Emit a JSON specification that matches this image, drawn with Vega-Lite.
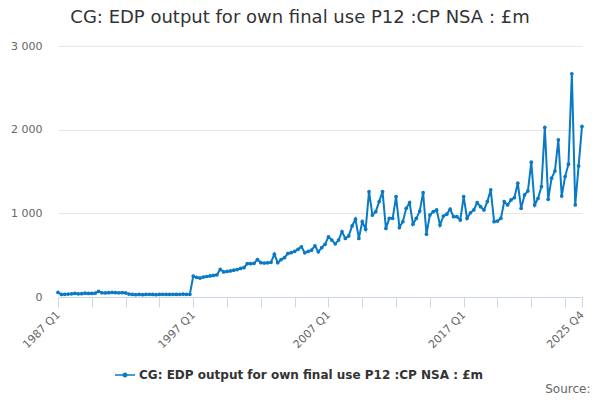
{
  "$schema": "https://vega.github.io/schema/vega-lite/v6.json",
  "autosize": {"type": "none"},
  "padding": {"left": 58, "top": 46, "right": 18, "bottom": 103},
  "width": 524,
  "height": 251,
  "background": "white",
  "title": {
    "text": "CG: EDP output for own final use P12 :CP NSA : £m",
    "font": "DejaVu Sans",
    "fontSize": 18,
    "fontWeight": "normal",
    "color": "#333333",
    "anchor": "middle",
    "dx": -20,
    "offset": 13
  },
  "data": {
    "values": [
      {"period": "1987 Q1", "value": 55}, {"period": "1987 Q2", "value": 30}, {"period": "1987 Q3", "value": 32}, {"period": "1987 Q4", "value": 35},
      {"period": "1988 Q1", "value": 38}, {"period": "1988 Q2", "value": 42}, {"period": "1988 Q3", "value": 38}, {"period": "1988 Q4", "value": 40},
      {"period": "1989 Q1", "value": 45}, {"period": "1989 Q2", "value": 42}, {"period": "1989 Q3", "value": 42}, {"period": "1989 Q4", "value": 45},
      {"period": "1990 Q1", "value": 68}, {"period": "1990 Q2", "value": 50}, {"period": "1990 Q3", "value": 48}, {"period": "1990 Q4", "value": 52},
      {"period": "1991 Q1", "value": 55}, {"period": "1991 Q2", "value": 52}, {"period": "1991 Q3", "value": 50}, {"period": "1991 Q4", "value": 52},
      {"period": "1992 Q1", "value": 48}, {"period": "1992 Q2", "value": 35}, {"period": "1992 Q3", "value": 30}, {"period": "1992 Q4", "value": 28},
      {"period": "1993 Q1", "value": 30}, {"period": "1993 Q2", "value": 28}, {"period": "1993 Q3", "value": 30}, {"period": "1993 Q4", "value": 32},
      {"period": "1994 Q1", "value": 30}, {"period": "1994 Q2", "value": 28}, {"period": "1994 Q3", "value": 30}, {"period": "1994 Q4", "value": 32},
      {"period": "1995 Q1", "value": 30}, {"period": "1995 Q2", "value": 30}, {"period": "1995 Q3", "value": 32}, {"period": "1995 Q4", "value": 30},
      {"period": "1996 Q1", "value": 32}, {"period": "1996 Q2", "value": 33}, {"period": "1996 Q3", "value": 32}, {"period": "1996 Q4", "value": 32},
      {"period": "1997 Q1", "value": 250}, {"period": "1997 Q2", "value": 235}, {"period": "1997 Q3", "value": 227}, {"period": "1997 Q4", "value": 238},
      {"period": "1998 Q1", "value": 245}, {"period": "1998 Q2", "value": 252}, {"period": "1998 Q3", "value": 258}, {"period": "1998 Q4", "value": 265},
      {"period": "1999 Q1", "value": 330}, {"period": "1999 Q2", "value": 300}, {"period": "1999 Q3", "value": 305}, {"period": "1999 Q4", "value": 312},
      {"period": "2000 Q1", "value": 320}, {"period": "2000 Q2", "value": 328}, {"period": "2000 Q3", "value": 342}, {"period": "2000 Q4", "value": 350},
      {"period": "2001 Q1", "value": 400}, {"period": "2001 Q2", "value": 398}, {"period": "2001 Q3", "value": 402}, {"period": "2001 Q4", "value": 448},
      {"period": "2002 Q1", "value": 410}, {"period": "2002 Q2", "value": 405}, {"period": "2002 Q3", "value": 408}, {"period": "2002 Q4", "value": 415},
      {"period": "2003 Q1", "value": 512}, {"period": "2003 Q2", "value": 410}, {"period": "2003 Q3", "value": 448}, {"period": "2003 Q4", "value": 470},
      {"period": "2004 Q1", "value": 520}, {"period": "2004 Q2", "value": 530}, {"period": "2004 Q3", "value": 545}, {"period": "2004 Q4", "value": 570},
      {"period": "2005 Q1", "value": 600}, {"period": "2005 Q2", "value": 528}, {"period": "2005 Q3", "value": 545}, {"period": "2005 Q4", "value": 560},
      {"period": "2006 Q1", "value": 612}, {"period": "2006 Q2", "value": 540}, {"period": "2006 Q3", "value": 590}, {"period": "2006 Q4", "value": 630},
      {"period": "2007 Q1", "value": 720}, {"period": "2007 Q2", "value": 680}, {"period": "2007 Q3", "value": 635}, {"period": "2007 Q4", "value": 680},
      {"period": "2008 Q1", "value": 781}, {"period": "2008 Q2", "value": 700}, {"period": "2008 Q3", "value": 730}, {"period": "2008 Q4", "value": 850},
      {"period": "2009 Q1", "value": 930}, {"period": "2009 Q2", "value": 700}, {"period": "2009 Q3", "value": 900}, {"period": "2009 Q4", "value": 810},
      {"period": "2010 Q1", "value": 1259}, {"period": "2010 Q2", "value": 980}, {"period": "2010 Q3", "value": 1020}, {"period": "2010 Q4", "value": 1140},
      {"period": "2011 Q1", "value": 1259}, {"period": "2011 Q2", "value": 820}, {"period": "2011 Q3", "value": 940}, {"period": "2011 Q4", "value": 940},
      {"period": "2012 Q1", "value": 1200}, {"period": "2012 Q2", "value": 832}, {"period": "2012 Q3", "value": 900}, {"period": "2012 Q4", "value": 1060},
      {"period": "2013 Q1", "value": 1127}, {"period": "2013 Q2", "value": 871}, {"period": "2013 Q3", "value": 940}, {"period": "2013 Q4", "value": 1027},
      {"period": "2014 Q1", "value": 1247}, {"period": "2014 Q2", "value": 751}, {"period": "2014 Q3", "value": 980}, {"period": "2014 Q4", "value": 1020},
      {"period": "2015 Q1", "value": 1040}, {"period": "2015 Q2", "value": 860}, {"period": "2015 Q3", "value": 967}, {"period": "2015 Q4", "value": 990},
      {"period": "2016 Q1", "value": 1050}, {"period": "2016 Q2", "value": 960}, {"period": "2016 Q3", "value": 960}, {"period": "2016 Q4", "value": 920},
      {"period": "2017 Q1", "value": 1200}, {"period": "2017 Q2", "value": 940}, {"period": "2017 Q3", "value": 1007}, {"period": "2017 Q4", "value": 1040},
      {"period": "2018 Q1", "value": 1127}, {"period": "2018 Q2", "value": 1079}, {"period": "2018 Q3", "value": 1040}, {"period": "2018 Q4", "value": 1140},
      {"period": "2019 Q1", "value": 1280}, {"period": "2019 Q2", "value": 900}, {"period": "2019 Q3", "value": 907}, {"period": "2019 Q4", "value": 940},
      {"period": "2020 Q1", "value": 1140}, {"period": "2020 Q2", "value": 1100}, {"period": "2020 Q3", "value": 1160}, {"period": "2020 Q4", "value": 1187},
      {"period": "2021 Q1", "value": 1360}, {"period": "2021 Q2", "value": 1060}, {"period": "2021 Q3", "value": 1220}, {"period": "2021 Q4", "value": 1267},
      {"period": "2022 Q1", "value": 1612}, {"period": "2022 Q2", "value": 1100}, {"period": "2022 Q3", "value": 1180}, {"period": "2022 Q4", "value": 1319},
      {"period": "2023 Q1", "value": 2027}, {"period": "2023 Q2", "value": 1168}, {"period": "2023 Q3", "value": 1420}, {"period": "2023 Q4", "value": 1507},
      {"period": "2024 Q1", "value": 1879}, {"period": "2024 Q2", "value": 1207}, {"period": "2024 Q3", "value": 1439}, {"period": "2024 Q4", "value": 1588},
      {"period": "2025 Q1", "value": 2668}, {"period": "2025 Q2", "value": 1100}, {"period": "2025 Q3", "value": 1567}, {"period": "2025 Q4", "value": 2039}
    ]
  },
  "mark": {
    "type": "line",
    "strokeWidth": 2,
    "point": {"size": 14, "filled": true}
  },
  "encoding": {
    "x": {
      "field": "period",
      "type": "ordinal",
      "sort": null,
      "scale": {"type": "point", "padding": 0},
      "axis": {
        "values": ["1987 Q1", "1989 Q3", "1992 Q1", "1994 Q3", "1997 Q1", "1999 Q3", "2002 Q1", "2004 Q3", "2007 Q1", "2009 Q3", "2012 Q1", "2014 Q3", "2017 Q1", "2019 Q3", "2022 Q1", "2024 Q3", "2025 Q4"],
        "labelExpr": "indexof(['1987 Q1','1997 Q1','2007 Q1','2017 Q1','2025 Q4'], datum.value) >= 0 ? datum.value : ''",
        "labelAngle": -45,
        "labelAlign": "right",
        "labelBaseline": "middle",
        "labelFont": "DejaVu Sans",
        "labelFontSize": 11,
        "labelColor": "#666666",
        "labelPadding": 6,
        "labelOverlap": false,
        "domainColor": "#ccd6eb",
        "tickColor": "#ccd6eb",
        "tickSize": 10,
        "grid": false,
        "title": "Source:",
        "titleFont": "DejaVu Sans",
        "titleFontSize": 12,
        "titleFontWeight": "normal",
        "titleColor": "#666666",
        "titleAnchor": "end",
        "titleAlign": "right",
        "titleBaseline": "bottom",
        "titleX": 532,
        "titleY": 98
      }
    },
    "y": {
      "field": "value",
      "type": "quantitative",
      "scale": {"domain": [0, 3000], "nice": false},
      "axis": {
        "values": [0, 1000, 2000, 3000],
        "labelExpr": "replace(format(datum.value, ','), ',', ' ')",
        "labelFont": "DejaVu Sans",
        "labelFontSize": 11,
        "labelColor": "#666666",
        "labelPadding": 16,
        "ticks": false,
        "domain": false,
        "gridColor": "#e6e6e6",
        "title": null
      }
    },
    "color": {
      "datum": "CG: EDP output for own final use P12 :CP NSA : £m",
      "type": "nominal",
      "scale": {"range": ["#0a7ac4"]},
      "legend": {
        "title": null,
        "orient": "none",
        "legendX": 57,
        "legendY": 319,
        "symbolType": "M-1,-0.08H1V0.08H-1Z M0,-0.25A0.25,0.25 0 1 1 0,0.25A0.25,0.25 0 1 1 0,-0.25Z",
        "symbolSize": 400,
        "symbolStrokeWidth": 0,
        "labelFont": "DejaVu Sans",
        "labelFontSize": 12,
        "labelFontWeight": "bold",
        "labelColor": "#333333",
        "labelLimit": 500
      }
    }
  },
  "config": {
    "view": {"stroke": null}
  }
}
